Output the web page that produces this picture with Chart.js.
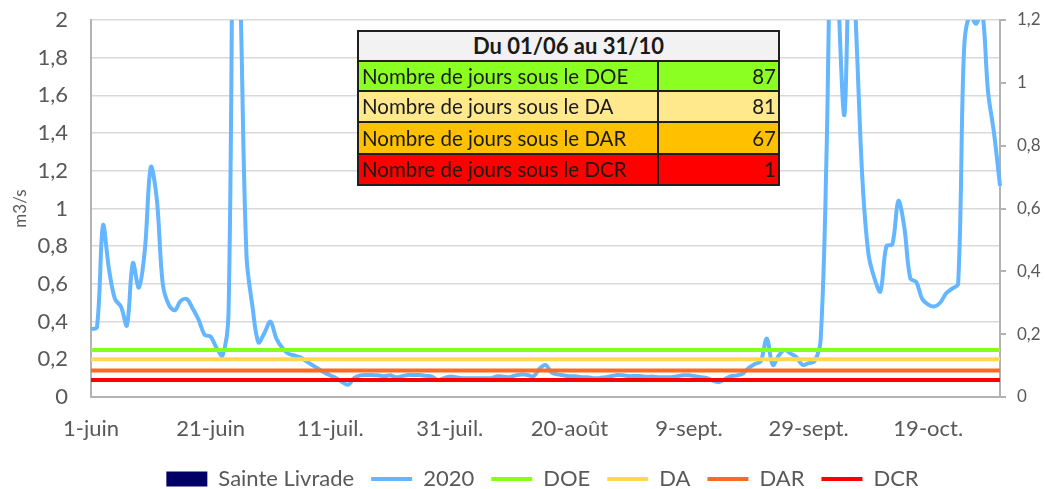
<!DOCTYPE html>
<html><head><meta charset="utf-8">
<script src="https://cdn.jsdelivr.net/npm/chart.js@4.4.1/dist/chart.umd.min.js"></script>
<style>
html,body{margin:0;padding:0;background:#fff;}
#wrap{position:relative;width:1045px;height:489px;overflow:hidden;background:#fff;}
#c{position:absolute;left:0;top:0;}
#tbl{position:absolute;left:357px;top:30px;border-collapse:collapse;table-layout:fixed;font-family:Lato,sans-serif;color:#1a1a1a;}
#tbl td{border:2px solid #1f1f1f;padding:0 3px;font-size:20.5px;white-space:nowrap;overflow:hidden;line-height:1;}
#tbl td.h{background:#F2F2F2;font-weight:bold;text-align:center;font-size:22px;}
#tbl td.v{text-align:right;padding-right:2px;}
</style></head>
<body>
<div id="wrap"><canvas id="c" width="1045" height="489"></canvas><table id="tbl"></table></div>
<script>
// ---- data ----
const months = [['juin',30],['juil.',31],['août',31],['sept.',30],['oct.',31]];
const categories = [];
months.forEach(([m, n]) => { for (let d = 1; d <= n; d++) categories.push(d + '-' + m); });

const flow2020 = [
  0.36, 0.37, 0.91, 0.68, 0.52, 0.48, 0.38, 0.71, 0.58, 0.78,
  1.22, 1.05, 0.60, 0.49, 0.46, 0.51, 0.52, 0.47, 0.41, 0.33,
  0.32, 0.26, 0.22, 0.45, 3.2, 2.1, 0.75, 0.48, 0.29, 0.34,
  0.40, 0.31, 0.26,
  0.23, 0.22, 0.21, 0.19, 0.17, 0.15, 0.13, 0.115, 0.10, 0.08,
  0.065, 0.10, 0.115, 0.117, 0.117, 0.115, 0.11, 0.115, 0.105, 0.11,
  0.117, 0.117, 0.117, 0.112, 0.108, 0.09, 0.10,
  0.108, 0.105, 0.10, 0.10, 0.10, 0.10, 0.10, 0.10, 0.11, 0.108,
  0.105, 0.115, 0.12, 0.117, 0.11, 0.15, 0.17, 0.13, 0.12, 0.115,
  0.11, 0.11, 0.105, 0.105, 0.10, 0.10, 0.105, 0.11, 0.117, 0.115,
  0.11, 0.112, 0.11, 0.108, 0.108, 0.105, 0.105, 0.105, 0.11, 0.115,
  0.115, 0.11, 0.105, 0.10, 0.087, 0.08, 0.095, 0.11, 0.115, 0.125,
  0.155, 0.175, 0.19, 0.31, 0.17, 0.22, 0.25, 0.23, 0.21, 0.17,
  0.18, 0.19, 0.30, 1.3, 3.0, 2.1, 1.5, 2.6, 1.9, 1.15,
  0.76, 0.63, 0.56, 0.80, 0.81, 1.04, 0.9, 0.63, 0.61, 0.52,
  0.49, 0.48, 0.50, 0.55, 0.575, 0.60, 1.85, 2.03, 1.98, 2.05,
  1.62, 1.40, 1.12
];

const DOE = 0.25;
const DA = 0.20;
const DAR = 0.14;
const DCR = 0.09;

const yLeftTicks = ['0','0,2','0,4','0,6','0,8','1','1,2','1,4','1,6','1,8','2'];
const yRightTicks = ['0','0,2','0,4','0,6','0,8','1','1,2'];
const xTickEvery = 20;

const tableTitle = 'Du 01/06 au 31/10';
const tableLabels = ['Nombre de jours sous le DOE','Nombre de jours sous le DA','Nombre de jours sous le DAR','Nombre de jours sous le DCR'];
const tableValues = [87, 81, 67, 1];
const tableColors = ['#8CFF22','#FFE98C','#FFC000','#FF0000'];
const tableRowHeights = [30, 30, 31, 32, 31];

// ---- table ----
const tbl = document.getElementById('tbl');
let html = '<colgroup><col style="width:300px"><col style="width:121px"></colgroup>';
html += '<tr style="height:' + tableRowHeights[0] + 'px"><td class="h" colspan="2">' + tableTitle + '</td></tr>';
tableLabels.forEach((t, i) => {
  html += '<tr style="height:' + tableRowHeights[i+1] + 'px;background:' + tableColors[i] + '"><td>' + t + '</td><td class="v">' + tableValues[i] + '</td></tr>';
});
tbl.innerHTML = html;

// ---- chart ----
const first = categories[0], last = categories[categories.length - 1];
const hline = v => [{x: first, y: v}, {x: last, y: v}];
const grey = '#595959';
Chart.defaults.font.family = "Lato, 'Liberation Sans', sans-serif";
Chart.defaults.color = grey;

new Chart(document.getElementById('c'), {
  type: 'line',
  data: {
    labels: categories,
    datasets: [
      {label: 'Sainte Livrade', data: [], borderColor: '#000066', backgroundColor: '#000066', legendRect: true, order: 10},
      {label: '2020', data: flow2020, borderColor: '#63B6FF', borderWidth: 4, pointRadius: 0, tension: 0.35, order: 6,
       clip: {left: 5, right: 5, top: 0, bottom: 5}},
      {label: 'DOE', data: hline(DOE), borderColor: '#84FF1E', borderWidth: 4, pointRadius: 0, order: 4},
      {label: 'DA', data: hline(DA), borderColor: '#FFD84F', borderWidth: 4, pointRadius: 0, order: 3},
      {label: 'DAR', data: hline(DAR), borderColor: '#FF6A1F', borderWidth: 4, pointRadius: 0, order: 2},
      {label: 'DCR', data: hline(DCR), borderColor: '#FF0000', borderWidth: 4, pointRadius: 0, order: 1}
    ]
  },
  options: {
    responsive: false,
    animation: false,
    devicePixelRatio: 1,
    layout: {padding: {top: 20, left: 0, right: -40, bottom: -11}, autoPadding: false},
    plugins: {
      tooltip: {enabled: false},
      legend: {
        position: 'bottom',
        labels: {
          usePointStyle: true,
          pointStyleWidth: 41,
          boxHeight: 15,
          padding: 17,
          color: grey,
          font: {size: 22},
          generateLabels(chart) {
            return chart.data.datasets.map((ds, i) => ({
              text: ds.label,
              datasetIndex: i,
              fillStyle: ds.borderColor,
              strokeStyle: ds.borderColor,
              lineWidth: ds.legendRect ? 0 : 4,
              pointStyle: ds.legendRect ? 'rect' : 'line',
              hidden: false,
              fontColor: grey
            }));
          }
        }
      }
    },
    scales: {
      x: {
        type: 'category',
        offset: false,
        grid: {display: false, drawTicks: false},
        border: {display: true, color: '#b3b3b3', width: 2},
        ticks: {
          autoSkip: false, maxRotation: 0, minRotation: 0, padding: 19,
          font: {size: 22}, color: grey,
          callback(v, i) { return i % xTickEvery === 0 ? this.getLabelForValue(v) : null; }
        },
        afterFit(s) { s.height = 54; s.paddingLeft = 0; s.paddingRight = 0; }
      },
      y: {
        position: 'left', min: 0, max: 2,
        grid: {color: '#d9d9d9', lineWidth: 1.5, drawTicks: false},
        border: {display: true, color: '#b3b3b3', width: 2},
        ticks: {stepSize: 0.2, padding: 23, font: {size: 22}, color: grey,
          callback(v, i) { return yLeftTicks[i]; }},
        title: {display: true, text: 'm3/s', font: {size: 17}, color: grey, padding: {top: 10, bottom: 0}},
        afterFit(s) { s.width = 91; s.paddingTop = 0; s.paddingBottom = 0; }
      },
      y1: {
        position: 'right', min: 0, max: 1.2, display: true,
        grid: {drawOnChartArea: false, drawTicks: true, tickLength: 6, color: '#b3b3b3', lineWidth: 2},
        border: {display: true, color: '#b3b3b3', width: 2},
        ticks: {stepSize: 0.2, padding: 11, font: {size: 17}, color: grey,
          callback(v, i) { return yRightTicks[i]; }},
        afterFit(s) { s.width = 85; s.paddingTop = 0; s.paddingBottom = 0; }
      }
    }
  }
});
</script>
</body></html>
